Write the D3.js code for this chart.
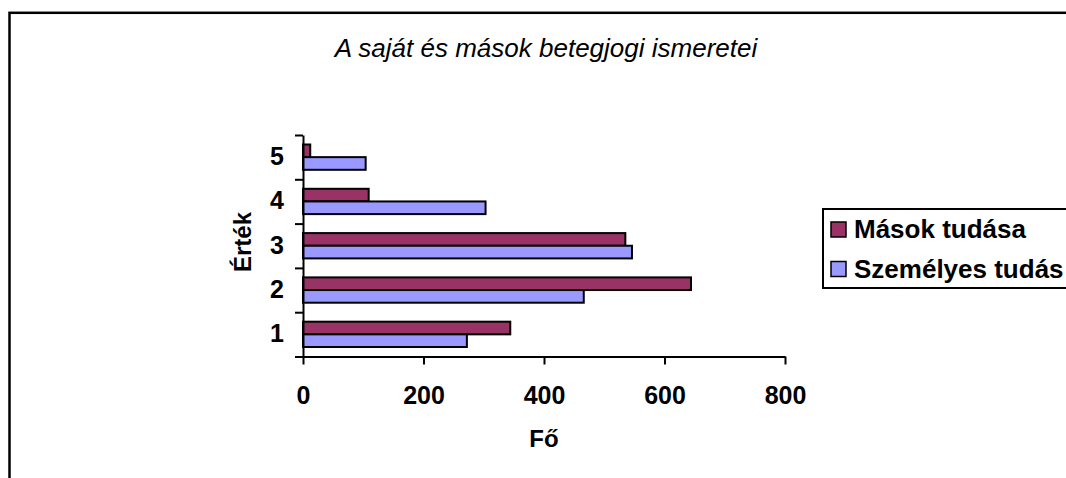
<!DOCTYPE html>
<html>
<head>
<meta charset="utf-8">
<script src="https://cdn.jsdelivr.net/npm/d3@7"></script>
<style>
    body { margin: 0; background: #fff; }
    svg text { font-family: "Liberation Sans", Arial, sans-serif; fill: #000; }
</style>
</head>
<body>
<svg class="chart"></svg>
<script>

var categories = ["1", "2", "3", "4", "5"];
var seriesNames = ["Mások tudása", "Személyes tudás"];
var masokTudasa = [344, 644, 535, 109, 12];
var szemelyesTudas = [272, 466, 546, 303, 104];
var xTicks = [0, 200, 400, 600, 800];
var seriesColors = ["#993366", "#9999FF"];

var chartWidth = 1066, chartHeight = 478;

//plot area
var plotLeft = 303, plotRight = 785;
var plotTop = 135, plotBottom = 356.5;

function initDia() {
    var chart = d3.select(".chart")
        .attr("width", chartWidth)
        .attr("height", chartHeight);

    // outer chart border, runs off the right and bottom edge
    chart.append("rect")
        .attr("x", 9.5).attr("y", 12.8)
        .attr("width", 1100).attr("height", 500)
        .attr("fill", "none")
        .attr("stroke", "#000")
        .attr("stroke-width", 2.5);

    chart.append("text")
        .attr("x", 546).attr("y", 57)
        .attr("text-anchor", "middle")
        .style("font-size", "26px")
        .style("font-style", "italic")
        .text("A saját és mások betegjogi ismeretei");

    var x = d3.scaleLinear().domain([0, 800]).range([plotLeft, plotRight]);

    // categories top to bottom: 5 .. 1
    var y = d3.scaleBand()
        .domain(categories.slice().reverse())
        .range([plotTop, plotBottom])
        .padding(0);

    // two bars in each band, gap width 150%
    var ySub = d3.scaleBand()
        .domain(seriesNames)
        .range([0, y.bandwidth()])
        .paddingInner(0)
        .paddingOuter(0.75);

    var rows = categories.map(function (c, i) {
        return {cat: c, values: [masokTudasa[i], szemelyesTudas[i]]};
    });

    var group = chart.selectAll("g.cat")
        .data(rows)
        .enter().append("g")
        .attr("class", "cat")
        .attr("transform", function (d) { return "translate(0," + y(d.cat) + ")"; });

    group.selectAll("rect")
        .data(function (d) {
            return d.values.map(function (v, j) { return {name: seriesNames[j], value: v, idx: j}; });
        })
        .enter().append("rect")
        .attr("x", x(0))
        .attr("y", function (d) { return ySub(d.name); })
        .attr("width", function (d) { return x(d.value) - x(0); })
        .attr("height", ySub.bandwidth())
        .attr("fill", function (d) { return seriesColors[d.idx]; })
        .attr("stroke", "#000")
        .attr("stroke-width", 2);

    // x axis
    var xAxis = d3.axisBottom(x)
        .tickValues(xTicks)
        .tickSize(8)
        .tickSizeOuter(0)
        .tickPadding(22);

    var gx = chart.append("g")
        .attr("transform", "translate(0," + plotBottom + ")")
        .call(xAxis);
    gx.selectAll("text")
        .style("font-size", "25px")
        .style("font-weight", "bold")
        .attr("font-family", null);

    // y axis: tick marks sit on the band edges, labels in the middle
    var yEdges = d3.scaleLinear().domain([0, categories.length]).range([plotBottom, plotTop]);
    chart.append("g")
        .attr("transform", "translate(" + plotLeft + ",0)")
        .call(d3.axisLeft(yEdges).ticks(categories.length).tickSize(8).tickSizeOuter(0).tickFormat(""));

    var gy = chart.append("g")
        .attr("transform", "translate(" + plotLeft + ",0)")
        .call(d3.axisLeft(y).tickSize(0).tickPadding(19));
    gy.select(".domain").remove();
    gy.selectAll("text")
        .style("font-size", "25px")
        .style("font-weight", "bold")
        .attr("font-family", null);

    chart.selectAll(".domain, .tick line")
        .attr("stroke", "#000")
        .attr("stroke-width", 2);

    chart.append("text")
        .attr("x", (plotLeft + plotRight) / 2).attr("y", 447)
        .attr("text-anchor", "middle")
        .style("font-size", "24px")
        .style("font-weight", "bold")
        .text("Fő");

    chart.append("text")
        .attr("transform", "translate(251,242) rotate(-90)")
        .attr("text-anchor", "middle")
        .style("font-size", "24px")
        .style("font-weight", "bold")
        .text("Érték");

    legend(chart);
}

function legend(chart) {
    chart.append("rect")
        .attr("x", 823).attr("y", 209)
        .attr("width", 300).attr("height", 79)
        .attr("fill", "#fff")
        .attr("stroke", "#000")
        .attr("stroke-width", 2);

    var item = chart.selectAll("g.legend")
        .data(seriesNames)
        .enter().append("g")
        .attr("class", "legend")
        .attr("transform", function (d, i) { return "translate(831," + (222 + i * 39.5) + ")"; });

    item.append("rect")
        .attr("width", 15).attr("height", 15)
        .attr("fill", function (d, i) { return seriesColors[i]; })
        .attr("stroke", "#000")
        .attr("stroke-width", 1.5);

    item.append("text")
        .attr("x", 23).attr("y", 16)
        .style("font-size", "26px")
        .style("font-weight", "bold")
        .text(function (d) { return d; });
}

initDia();
</script>
</body>
</html>
